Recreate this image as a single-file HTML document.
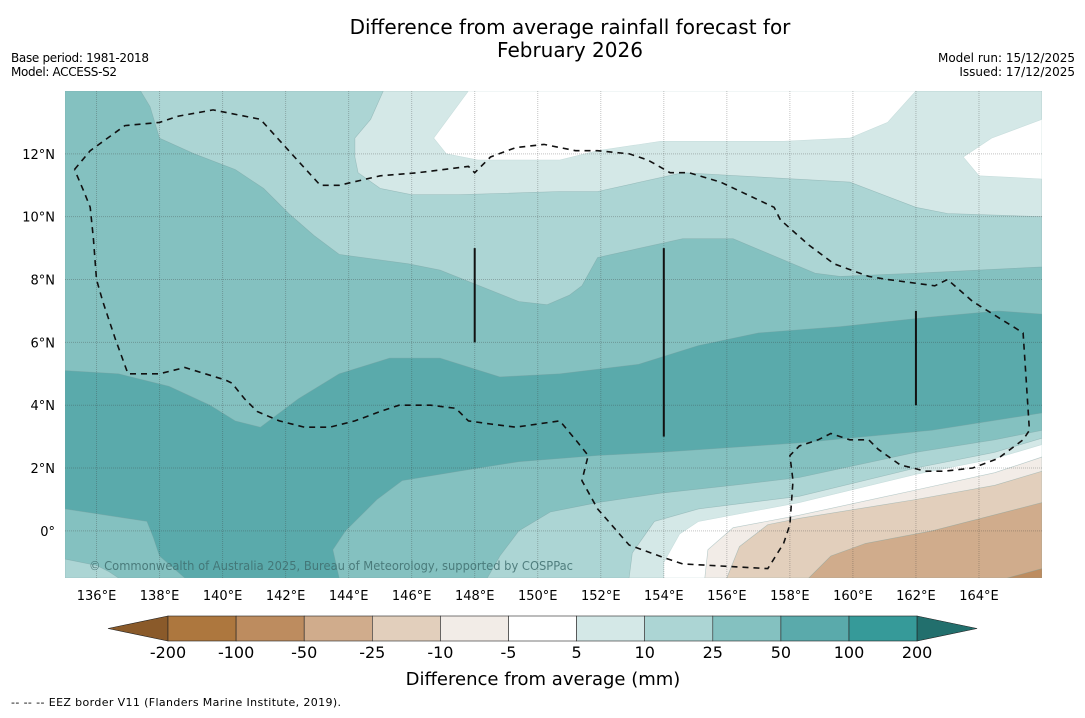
<!DOCTYPE html>
<html><head><meta charset="utf-8"><style>
body{margin:0;background:#fff;width:1085px;height:713px;overflow:hidden;font-family:"Liberation Sans","DejaVu Sans",sans-serif}
svg text{font-family:"DejaVu Sans","Liberation Sans",sans-serif}
</style></head><body>
<svg id="chart" width="1085" height="713">
<text x="570" y="34" font-size="20" text-anchor="middle">Difference from average rainfall forecast for</text>
<text x="570" y="57" font-size="20" text-anchor="middle">February 2026</text>
<text x="11" y="62" font-size="12" textLength="138">Base period: 1981-2018</text>
<text x="11" y="76" font-size="12" textLength="106">Model: ACCESS-S2</text>
<text x="1075" y="62" font-size="12" text-anchor="end">Model run: 15/12/2025</text>
<text x="1075" y="76" font-size="12" text-anchor="end">Issued: 17/12/2025</text>
<g id="map"></g>
<g id="cbar"></g>
<text x="543" y="685" font-size="18" text-anchor="middle">Difference from average (mm)</text>
<text x="11" y="706" font-size="11" textLength="330">--  --  -- EEZ border V11 (Flanders Marine Institute, 2019).</text>
</svg>
<script>
const lonTicks=[136,138,140,142,144,146,148,150,152,154,156,158,160,162,164];
const latTicks=[0,2,4,6,8,10,12];
const cbarLevels=["-200","-100","-50","-25","-10","-5","5","10","25","50","100","200"];
const cbarColors=["#ad773e","#bd8c5f","#d0ac8c","#e2cfbc","#f2ece7","#ffffff","#d4e8e7","#acd5d4","#84c1c0","#5aaaab","#369a99"];
// contour polygons [lon,lat]
const band25Base=[[135,14],[166,14],[166,-1.5],[135,-1.5]];
const band10Top=[[137.4,14],[137.7,13.5],[138.0,12.5],[139.1,12.0],[140.4,11.5],[141.3,10.9],[142.1,10.1],[142.9,9.4],[143.7,8.8],[145.9,8.5],[146.9,8.3],[147.9,7.9],[149.4,7.3],[150.3,7.2],[151.0,7.5],[151.4,7.8],[151.9,8.7],[154.6,9.3],[156.2,9.3],[158.8,8.2],[159.6,8.1],[162.0,8.2],[166,8.4],[166,14]];
const band5Top=[[145.1,14],[144.7,13.1],[144.2,12.5],[144.2,11.9],[144.3,11.4],[145.0,10.9],[146.0,10.7],[147.5,10.7],[150.7,10.8],[151.9,10.8],[154.6,11.4],[159.9,11.1],[162.0,10.3],[163.0,10.1],[166,10.0],[166,14]];
const whiteTop=[[147.8,14],[146.7,12.5],[147.1,12.0],[148.1,11.8],[150.7,11.8],[151.9,12.1],[153.9,12.4],[157.8,12.4],[159.9,12.5],[161.1,13.0],[162.0,14]];
const whiteTopRight=[[166,13.1],[164.4,12.5],[163.5,11.9],[164.0,11.3],[166,11.2]];
const band50Mid=[[135,5.1],[136.7,5.0],[138.3,4.6],[139.6,4.0],[140.4,3.5],[141.2,3.3],[142.4,4.2],[143.7,5.0],[145.3,5.5],[146.9,5.5],[148.8,4.9],[150.7,5.0],[153.2,5.3],[155.1,5.9],[157.0,6.3],[159.6,6.5],[162.4,6.8],[164.6,7.0],[166,6.9],
 [166,3.75],[162.5,3.2],[158.3,2.8],[153.9,2.5],[151.9,2.4],[149.4,2.2],[147.5,1.9],[145.7,1.6],[144.9,1.0],[143.9,0.0],[143.5,-0.6],[143.7,-1.5],[138.8,-1.5],[138.0,-0.8],[137.8,-0.2],[137.6,0.3],[135,0.7]];
const band10BL=[[135,-0.9],[136.0,-1.1],[136.4,-1.3],[136.7,-1.5],[135,-1.5]];
const band10Low=[[148.4,-1.5],[148.8,-0.8],[149.4,0.0],[150.4,0.6],[151.9,0.9],[153.9,1.2],[156.2,1.45],[158.3,1.7],[162.0,2.5],[164.5,2.9],[166,3.2],[166,-1.5]];
const band5Low=[[152.9,-1.5],[153.0,-0.7],[153.7,0.3],[155.1,0.7],[158.3,1.1],[162.0,2.0],[164.5,2.5],[166,2.95],[166,-1.5]];
const whiteLow=[[154.0,-1.5],[154.0,-1.0],[154.5,-0.1],[155.1,0.3],[158.3,0.9],[162.0,1.8],[164.5,2.3],[166,2.75],[166,-1.5]];
const negLow5=[[155.3,-1.5],[155.4,-0.6],[156.2,0.1],[158.3,0.5],[162.0,1.3],[164.5,1.85],[166,2.35],[166,-1.5]];
const negLow10=[[156.0,-1.5],[156.4,-0.5],[157.3,0.2],[158.3,0.4],[162.0,1.0],[164.5,1.45],[166,1.9],[166,-1.5]];
const negLow25=[[158.6,-1.5],[159.3,-0.8],[160.4,-0.4],[162.5,0.0],[166,0.9],[166,-1.5]];
const negLow50=[[164.9,-1.5],[166,-1.2],[166,-1.5]];
const eezLine=[[135.3,11.5],[135.8,12.1],[136.9,12.9],[138.0,13.0],[138.6,13.2],[139.7,13.4],[141.2,13.1],[142.1,12.1],[143.1,11.0],[143.7,11.0],[145.0,11.3],[146.2,11.4],[147.8,11.6],[148.0,11.4],[148.5,11.9],[149.3,12.2],[150.2,12.3],[151.2,12.1],[151.9,12.1],[152.9,12.0],[153.5,11.8],[154.2,11.4],[154.8,11.4],[155.8,11.1],[157.5,10.3],[157.7,9.9],[158.6,9.1],[159.4,8.5],[160.5,8.1],[161.1,8.0],[162.6,7.8],[163.0,8.0],[163.8,7.3],[165.4,6.3],[165.5,4.8],[165.6,3.2],[165.4,2.9],[164.6,2.3],[163.8,2.0],[162.9,1.9],[162.3,1.9],[161.5,2.1],[160.8,2.6],[160.5,2.9],[159.9,2.9],[159.3,3.1],[158.9,2.9],[158.3,2.7],[158.0,2.4],[158.1,1.6],[158.0,0.2],[157.8,-0.4],[157.3,-1.2],[154.6,-1.05],[154.0,-0.85],[152.9,-0.45],[151.9,0.7],[151.4,1.6],[151.6,2.4],[151.2,2.9],[150.7,3.5],[150.0,3.4],[149.3,3.3],[148.5,3.4],[147.8,3.5],[147.4,3.9],[146.6,4.0],[145.6,4.0],[145.0,3.8],[144.2,3.5],[143.4,3.3],[142.6,3.3],[141.8,3.5],[141.1,3.8],[140.7,4.2],[140.3,4.7],[140.1,4.8],[138.8,5.2],[138.0,5.0],[137.0,5.0],[136.6,6.1],[136.2,7.3],[136.0,8.0],[135.9,9.3],[135.8,10.3],[135.6,10.8],[135.3,11.5]];
const boundaryLines=[[148,6,9],[154,3,9],[162,4,7]];

const X0=65,X1=1042,Y0=91,Y1=578,LON0=135,LON1=166,LAT0=-1.5,LAT1=14;
function xs(lon){return X0+(lon-LON0)/(LON1-LON0)*(X1-X0);}
function ys(lat){return Y1-(lat-LAT0)/(LAT1-LAT0)*(Y1-Y0);}
const NS="http://www.w3.org/2000/svg";
const map=document.getElementById('map');
function mk(tag,attrs,parent){const e=document.createElementNS(NS,tag);for(const k in attrs)e.setAttribute(k,attrs[k]);parent.appendChild(e);return e;}
function pts(arr){return arr.map(p=>xs(p[0]).toFixed(1)+','+ys(p[1]).toFixed(1)).join(' ');}
const clip=mk('clipPath',{id:'mc'},map);mk('rect',{x:X0,y:Y0,width:X1-X0,height:Y1-Y0},clip);
const g=mk('g',{'clip-path':'url(#mc)'},map);
const layers=[[band25Base,"#84c1c0","band-25-50"],[band10Top,"#acd5d4","band-10-25-north"],[band5Top,"#d4e8e7","band-5-10-north"],[whiteTop,"#ffffff","band-neutral-north"],[whiteTopRight,"#ffffff","band-neutral-northeast"],[band50Mid,"#5aaaab","band-50-100"],[band10BL,"#acd5d4","band-10-25-southwest"],[band10Low,"#acd5d4","band-10-25-south"],[band5Low,"#d4e8e7","band-5-10-south"],[whiteLow,"#ffffff","band-neutral-south"],[negLow5,"#f2ece7","band-minus-5-10"],[negLow10,"#e2cfbc","band-minus-10-25"],[negLow25,"#d0ac8c","band-minus-25-50"],[negLow50,"#bd8c5f","band-minus-50-100"]];
layers.forEach(L=>{
 const p=mk('polygon',{points:pts(L[0]),fill:L[1],stroke:L[1]==="#ffffff"?"#c8dedd":"rgba(120,160,160,0.5)","stroke-width":0.6},g);
 
 
});
lonTicks.forEach(l=>{
 const ln=mk('line',{x1:xs(l),x2:xs(l),y1:Y0,y2:Y1,stroke:"rgba(60,60,60,0.3)","stroke-width":1,"stroke-dasharray":"1,1"},g);
 
 
 const t=mk('text',{x:xs(l),y:600,"font-size":13,"text-anchor":"middle"},map);t.textContent=l+"°E";
 
 
});
latTicks.forEach(l=>{
 const ln=mk('line',{x1:X0,x2:X1,y1:ys(l),y2:ys(l),stroke:"rgba(60,60,60,0.3)","stroke-width":1,"stroke-dasharray":"1,1"},g);
 
 
 const t=mk('text',{x:55,y:ys(l)+5,"font-size":13,"text-anchor":"end"},map);t.textContent=l===0?"0°":l+"°N";
 
 
});
const eez=mk('polyline',{points:pts(eezLine),fill:"none",stroke:"#111","stroke-width":1.6,"stroke-dasharray":"6,5"},g);


boundaryLines.forEach(b=>{
 const ln=mk('line',{x1:xs(b[0]),x2:xs(b[0]),y1:ys(b[1]),y2:ys(b[2]),stroke:"#111","stroke-width":2},g);
 
 
});
const wm=mk('text',{x:89,y:570,"font-size":12,fill:"#3f6f6f","fill-opacity":0.85,textLength:484,lengthAdjust:"spacingAndGlyphs"},g);wm.textContent="© Commonwealth of Australia 2025, Bureau of Meteorology, supported by COSPPac";


// colorbar
const cb=document.getElementById('cbar');
const CX0=168,CW=68.1,CY=616,CH=25;
const lt=mk('polygon',{points:`108,${CY+CH/2} ${CX0},${CY} ${CX0},${CY+CH}`,fill:"#8a5a2a",stroke:"#222","stroke-width":0.6},cb);


for(let i=0;i<cbarLevels.length-1;i++){
 const r=mk('rect',{x:CX0+i*CW,y:CY,width:CW,height:CH,fill:cbarColors[i],stroke:"#222","stroke-width":0.6},cb);
 
 
}
const XE=CX0+(cbarLevels.length-1)*CW;
const rt=mk('polygon',{points:`${XE},${CY} ${XE+60},${CY+CH/2} ${XE},${CY+CH}`,fill:"#226f6d",stroke:"#222","stroke-width":0.6},cb);


cbarLevels.forEach((v,i)=>{
 const t=mk('text',{x:CX0+i*CW,y:658,"font-size":16,"text-anchor":"middle"},cb);t.textContent=v;
 
 
});
</script>
</body></html>
